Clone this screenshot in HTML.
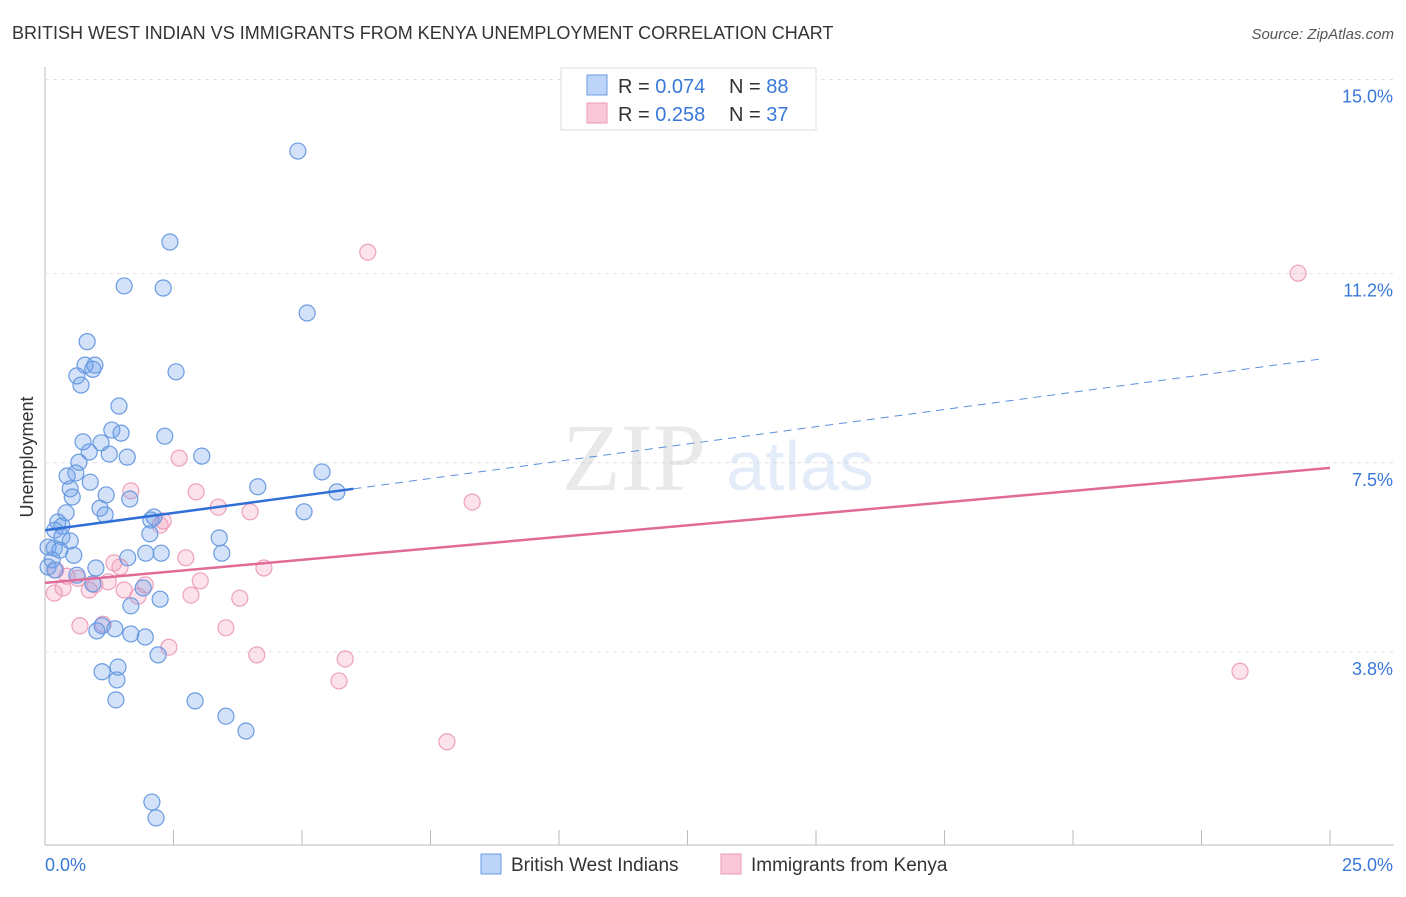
<!DOCTYPE html>
<html><head><meta charset="utf-8"><style>
body{margin:0;background:#fff;font-family:"Liberation Sans",sans-serif;}
</style></head><body>
<svg id="chart" width="1406" height="892" xmlns="http://www.w3.org/2000/svg">
<text x="12" y="39" font-size="18" fill="#333">BRITISH WEST INDIAN VS IMMIGRANTS FROM KENYA UNEMPLOYMENT CORRELATION CHART</text>
<text x="1394" y="39" font-size="15" fill="#555" font-style="italic" text-anchor="end">Source: ZipAtlas.com</text>
<text x="33" y="457" font-size="18" fill="#333" transform="rotate(-90 33 457)" text-anchor="middle">Unemployment</text>
<g id="grid"></g>
<g opacity="0.18">
<text x="634" y="490" font-size="96" font-family="Liberation Serif,serif" fill="#888" text-anchor="middle">ZIP</text>
<text x="800" y="490" font-size="70" fill="#6a9be0" text-anchor="middle">atlas</text>
</g>
<g id="marks"></g>
<g>
<rect x="561" y="68" width="255" height="62" fill="#fff" stroke="#ddd"/>
<rect x="587" y="75" width="20" height="20" fill="#bcd4f7" stroke="#6a9be0"/>
<rect x="587" y="103" width="20" height="20" fill="#f9c8d8" stroke="#eb9ab5"/>
<text x="618" y="93" font-size="20" fill="#333">R = <tspan fill="#3a78d8">0.074</tspan></text>
<text x="729" y="93" font-size="20" fill="#333">N = <tspan fill="#3a78d8">88</tspan></text>
<text x="618" y="121" font-size="20" fill="#333">R = <tspan fill="#3a78d8">0.258</tspan></text>
<text x="729" y="121" font-size="20" fill="#333">N = <tspan fill="#3a78d8">37</tspan></text>
</g>
<g>
<rect x="481" y="854" width="20" height="20" fill="#bcd4f7" stroke="#6a9be0"/>
<text x="511" y="871" font-size="19" fill="#333">British West Indians</text>
<rect x="721" y="854" width="20" height="20" fill="#f9c8d8" stroke="#eb9ab5"/>
<text x="751" y="871" font-size="19" fill="#333">Immigrants from Kenya</text>
</g>
</svg>
<script>
const yTicks=[3.8,7.5,11.2,15.0];
const yTickLabels=["3.8%","7.5%","11.2%","15.0%"];
const xTicks=[2.5,5,7.5,10,12.5,15,17.5,20,22.5,25];
const blueX=[4.92,2.43,1.54,2.30,5.10,0.82,2.55,0.78,0.97,0.62,0.70,0.93,1.44,2.33,0.74,1.09,1.30,1.48,1.25,1.60,3.05,0.86,0.66,5.39,0.43,0.60,4.14,0.88,0.49,0.53,1.19,1.65,5.68,1.07,5.04,1.17,0.41,2.12,2.06,0.25,0.33,0.19,2.04,0.49,0.33,3.39,0.06,0.18,0.29,0.56,3.44,1.96,2.26,1.61,0.14,0.06,0.19,0.99,0.62,0.93,1.91,2.24,1.67,1.11,1.01,1.36,1.67,1.95,2.20,1.11,1.42,1.40,2.92,1.38,3.52,3.91,2.08,2.16];
const blueY=[13.60,11.82,10.96,10.92,10.43,9.87,9.28,9.41,9.41,9.20,9.02,9.33,8.61,8.02,7.91,7.89,8.14,8.08,7.67,7.61,7.63,7.71,7.51,7.32,7.24,7.30,7.03,7.12,6.99,6.83,6.87,6.79,6.93,6.61,6.54,6.48,6.52,6.44,6.38,6.34,6.26,6.18,6.11,5.97,6.05,6.03,5.85,5.83,5.79,5.69,5.73,5.73,5.73,5.64,5.60,5.46,5.40,5.44,5.30,5.13,5.05,4.83,4.70,4.31,4.21,4.25,4.15,4.09,3.74,3.41,3.50,3.25,2.84,2.86,2.54,2.25,0.86,0.55];
const pinkX=[6.28,24.38,2.61,2.94,1.67,3.99,3.37,2.30,2.24,8.31,2.74,1.34,1.46,4.26,0.43,0.64,0.97,1.23,0.35,0.86,3.02,1.95,1.54,3.79,2.84,1.81,0.18,0.68,3.52,2.41,4.12,5.84,5.72,7.82,23.25,1.13,0.21];
const pinkY=[11.62,11.21,7.59,6.93,6.95,6.54,6.63,6.36,6.28,6.73,5.64,5.54,5.46,5.44,5.28,5.24,5.11,5.17,5.05,5.01,5.19,5.11,5.01,4.85,4.91,4.89,4.95,4.31,4.27,3.89,3.74,3.66,3.23,2.04,3.42,4.34,5.40];
const blueTrend=[6.18,0.135];
const pinkTrend=[5.15,0.09];
const X=v=>45+v*51.4, Y=v=>846-v*51.1;
const NS="http://www.w3.org/2000/svg";
const gridG=document.getElementById('grid'), marksG=document.getElementById('marks');
function mk(tag,attrs,parent){const e=document.createElementNS(NS,tag);for(const k in attrs)e.setAttribute(k,attrs[k]);parent.appendChild(e);return e;}
const ax=mk('line',{x1:45,y1:67,x2:45,y2:845,stroke:'#bbb'},gridG);


const bx=mk('line',{x1:45,y1:845,x2:1394,y2:845,stroke:'#bbb'},gridG);


const topLine=mk('line',{x1:45,y1:Y(15),x2:1394,y2:Y(15),stroke:'#ddd','stroke-dasharray':'4,4'},gridG);


yTicks.forEach((t,i)=>{
 const g=mk('line',{x1:45,y1:Y(t),x2:1394,y2:Y(t),stroke:'#e2e2e2','stroke-dasharray':'4,4'},gridG);
 
 
 const l=mk('text',{x:1393,y:Y(t)+23,'font-size':18,fill:'#3a78d8','text-anchor':'end'},gridG);
 l.textContent=yTickLabels[i];
 
 
});
xTicks.forEach(t=>{
 const g=mk('line',{x1:X(t),y1:830,x2:X(t),y2:845,stroke:'#bbb'},gridG);
 
 
});
const xl0=mk('text',{x:45,y:871,'font-size':18,fill:'#3a78d8'},gridG);xl0.textContent='0.0%';


const xl1=mk('text',{x:1393,y:871,'font-size':18,fill:'#3a78d8','text-anchor':'end'},gridG);xl1.textContent='25.0%';


pinkX.forEach((v,i)=>{
 const c=mk('circle',{cx:X(v),cy:Y(pinkY[i]),r:8,fill:'rgba(242,160,190,0.3)',stroke:'#eea0bb','stroke-width':1.2},marksG);
 
 
});
blueX.forEach((v,i)=>{
 const c=mk('circle',{cx:X(v),cy:Y(blueY[i]),r:8,fill:'rgba(110,160,235,0.3)',stroke:'#6a9be0','stroke-width':1.2},marksG);
 
 
});
const bt=v=>blueTrend[0]+blueTrend[1]*v, pt=v=>pinkTrend[0]+pinkTrend[1]*v;
const tl1=mk('line',{x1:X(0),y1:Y(bt(0)),x2:X(6),y2:Y(bt(6)),stroke:'#2f6fd6','stroke-width':2.5},marksG);


const tl2=mk('line',{x1:X(6),y1:Y(bt(6)),x2:X(24.9),y2:Y(bt(24.9)),stroke:'#5a8fdf','stroke-width':1,'stroke-dasharray':'8,6'},marksG);


const tl3=mk('line',{x1:X(0),y1:Y(pt(0)),x2:X(25),y2:Y(pt(25)),stroke:'#e06a98','stroke-width':2.5},marksG);


</script>
</body></html>
